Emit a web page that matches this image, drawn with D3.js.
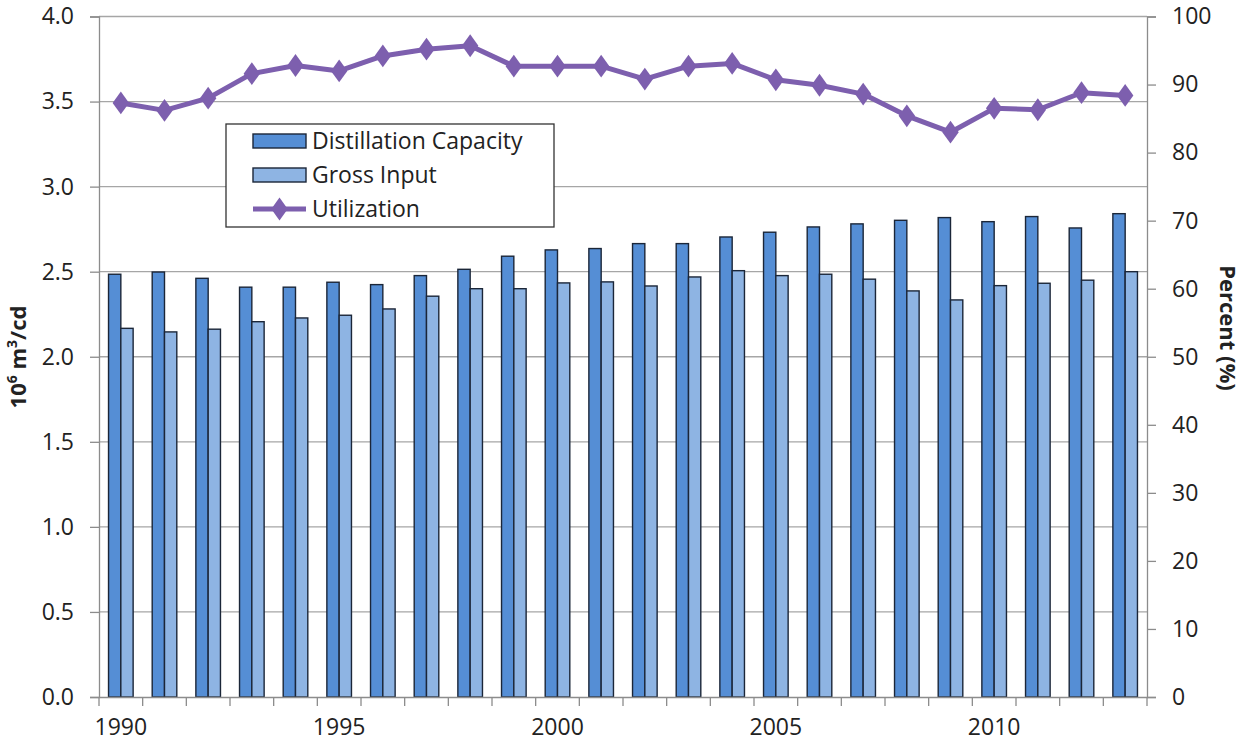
<!DOCTYPE html>
<html>
<head>
<meta charset="utf-8">
<script src="https://cdn.jsdelivr.net/npm/d3@7"></script>
<style>
  body { margin: 0; background: #fff; }
  svg text { font-family: "Open Sans", "Noto Sans", sans-serif; fill: #222; }
</style>
</head>
<body>
<div id="chart"></div>
<script>
// data
const years = d3.range(1990, 2014);
const distillationCapacity = [2.485, 2.498, 2.461, 2.409, 2.409, 2.438, 2.424, 2.477,
    2.514, 2.591, 2.628, 2.636, 2.665, 2.665, 2.704, 2.732,
    2.763, 2.781, 2.802, 2.818, 2.794, 2.824, 2.757, 2.841];
const grossInput = [2.167, 2.146, 2.162, 2.206, 2.228, 2.244, 2.281, 2.356,
    2.400, 2.400, 2.434, 2.440, 2.416, 2.469, 2.506, 2.477,
    2.485, 2.456, 2.387, 2.334, 2.418, 2.432, 2.450, 2.500];
const utilization = [87.3, 86.2, 88.0, 91.6, 92.8, 92.0, 94.2, 95.2,
    95.7, 92.7, 92.7, 92.7, 90.8, 92.7, 93.1, 90.7,
    89.9, 88.6, 85.4, 83.0, 86.5, 86.3, 88.8, 88.4];
const leftTicks = d3.range(0, 4.01, 0.5);
const rightTicks = d3.range(0, 101, 10);
const xLabelYears = [1990, 1995, 2000, 2005, 2010];
const seriesNames = ["Distillation Capacity", "Gross Input", "Utilization"];

const W = 1244, H = 746;
const plot = {left: 99, right: 1147, top: 16.5, bottom: 697};
const colors = {cap: "#558ed5", gross: "#8eb4e3", util: "#7d5fae", outline: "#1b2638", axis: "#8c8c8c", grid: "#a6a6a6"};

const svg = d3.select("#chart").append("svg")
    .attr("width", W).attr("height", H);

const x = d3.scaleBand().domain(years).range([plot.left, plot.right]).padding(0);
const xInner = d3.scaleBand().domain(["cap", "gross"]).range([0, x.bandwidth()])
    .paddingInner(0).paddingOuter(0.775);
const yL = d3.scaleLinear().domain([0, 4]).range([plot.bottom, plot.top]);
const yR = d3.scaleLinear().domain([0, 100]).range([plot.bottom, plot.top]);

// gridlines
svg.append("g").selectAll("line").data(leftTicks.slice(1)).join("line")
    .attr("x1", plot.left).attr("x2", plot.right)
    .attr("y1", d => yL(d)).attr("y2", d => yL(d))
    .attr("stroke", colors.grid).attr("stroke-width", 1.3);

// bars
const rows = years.map((yr, i) => ({yr, cap: distillationCapacity[i], gross: grossInput[i]}));
const groups = svg.append("g").selectAll("g").data(rows).join("g")
    .attr("transform", d => `translate(${x(d.yr)},0)`);
groups.selectAll("rect").data(d => [["cap", d.cap], ["gross", d.gross]]).join("rect")
    .attr("x", d => xInner(d[0]))
    .attr("width", xInner.bandwidth())
    .attr("y", d => yL(d[1]))
    .attr("height", d => yL(0) - yL(d[1]))
    .attr("fill", d => colors[d[0]])
    .attr("stroke", colors.outline).attr("stroke-width", 1.4);

// axes
const axisL = svg.append("g").attr("transform", `translate(${plot.left},0)`)
    .call(d3.axisLeft(yL).tickValues(leftTicks).tickFormat(d3.format(".1f")).tickSize(9).tickPadding(16));
const axisR = svg.append("g").attr("transform", `translate(${plot.right},0)`)
    .call(d3.axisRight(yR).tickValues(rightTicks).tickSize(9).tickPadding(16));
const axisB = svg.append("g").attr("transform", `translate(0,${plot.bottom})`)
    .call(d3.axisBottom(x).tickSize(0).tickPadding(22)
        .tickFormat(d => xLabelYears.includes(d) ? d : ""));
// category boundary ticks
axisB.append("g").selectAll("line").data(years.concat([years[years.length - 1] + 1])).join("line")
    .attr("x1", (d, i) => plot.left + i * x.step()).attr("x2", (d, i) => plot.left + i * x.step())
    .attr("y1", 0).attr("y2", 9)
    .attr("stroke", colors.axis).attr("stroke-width", 1.3);

[axisL, axisR, axisB].forEach(a => {
    a.select(".domain").attr("stroke", colors.axis).attr("stroke-width", 1.3);
    a.selectAll(".tick line").attr("stroke", colors.axis).attr("stroke-width", 1.3);
    a.selectAll("text").attr("font-size", 23).attr("fill", "#222")
        .attr("font-family", "'Open Sans', sans-serif");
});

// utilization line
const lineGen = d3.line().x((d, i) => x(years[i]) + x.bandwidth() / 2).y(d => yR(d));
svg.append("path").datum(utilization)
    .attr("d", lineGen).attr("fill", "none")
    .attr("stroke", colors.util).attr("stroke-width", 5).attr("stroke-linejoin", "round");
const diamond = d3.symbol().type(d3.symbolDiamond).size(150);
svg.append("g").selectAll("path").data(utilization).join("path")
    .attr("d", diamond)
    .attr("transform", (d, i) => `translate(${x(years[i]) + x.bandwidth() / 2},${yR(d)}) scale(1.25,1)`)
    .attr("fill", colors.util);

// axis titles
const tl = svg.append("text")
    .attr("transform", "translate(26,357) rotate(-90)")
    .attr("text-anchor", "middle").attr("font-size", 22).attr("font-weight", "bold");
tl.append("tspan").text("10");
tl.append("tspan").attr("font-size", 14).attr("dy", -9).text("6");
tl.append("tspan").attr("dy", 9).text(" m");
tl.append("tspan").attr("font-size", 14).attr("dy", -9).text("3");
tl.append("tspan").attr("dy", 9).text("/cd");

svg.append("text")
    .attr("transform", "translate(1220,328) rotate(90)")
    .attr("text-anchor", "middle").attr("font-size", 22).attr("font-weight", "bold")
    .text("Percent (%)");

// legend
const lg = svg.append("g").attr("transform", "translate(226,124)");
lg.append("rect").attr("width", 328).attr("height", 103)
    .attr("fill", "#fff").attr("stroke", "#333").attr("stroke-width", 1.3);
const rowY = [17, 51, 85];
lg.selectAll("rect.sw").data([colors.cap, colors.gross]).join("rect")
    .attr("class", "sw")
    .attr("x", 27).attr("y", (d, i) => rowY[i] - 7)
    .attr("width", 53).attr("height", 14)
    .attr("fill", d => d).attr("stroke", colors.outline).attr("stroke-width", 1.4);
lg.append("line").attr("x1", 27).attr("x2", 80).attr("y1", rowY[2]).attr("y2", rowY[2])
    .attr("stroke", colors.util).attr("stroke-width", 5);
lg.append("path").attr("d", diamond)
    .attr("transform", `translate(53.5,${rowY[2]}) scale(1.25,1)`).attr("fill", colors.util);
lg.selectAll("text").data(seriesNames).join("text")
    .attr("x", 86).attr("y", (d, i) => rowY[i])
    .attr("dy", "0.35em").attr("font-size", 23)
    .text(d => d);
</script>
</body>
</html>
